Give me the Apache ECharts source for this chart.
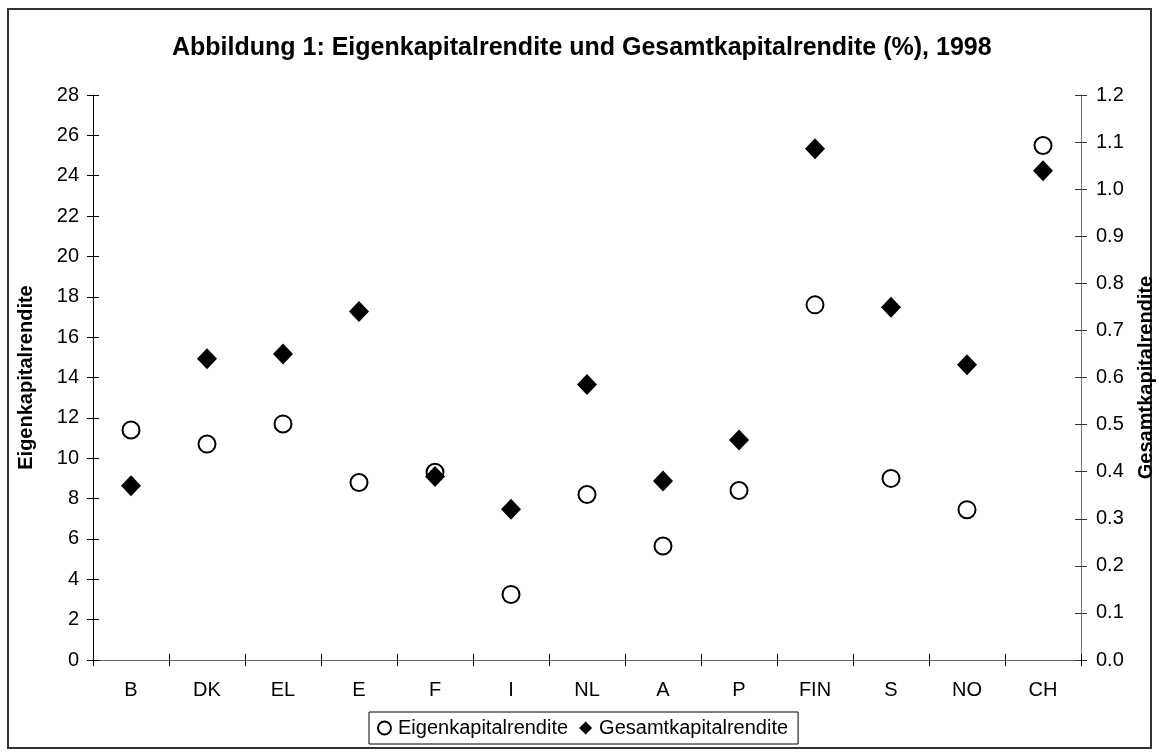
<!DOCTYPE html>
<html>
<head>
<meta charset="utf-8">
<script src="https://cdn.jsdelivr.net/npm/echarts@6/dist/echarts.min.js"></script>
<style>
  html, body { margin: 0; padding: 0; background: #fff; }
  #chart { width: 1159px; height: 756px; }
</style>
</head>
<body>
<div id="chart"></div>
<script>
// Länder (Kategorien)
const countries = ['B', 'DK', 'EL', 'E', 'F', 'I', 'NL', 'A', 'P', 'FIN', 'S', 'NO', 'CH']
// Eigenkapitalrendite (linke Achse, %)
const eigenkapital = [11.4, 10.7, 11.7, 8.8, 9.3, 3.25, 8.2, 5.65, 8.4, 17.6, 9.0, 7.45, 25.5]
// Gesamtkapitalrendite (rechte Achse, %)
const gesamtkapital = [0.37, 0.64, 0.65, 0.74, 0.39, 0.32, 0.585, 0.38, 0.467, 1.086, 0.749, 0.627, 1.039]

const font = "'Liberation Sans', Arial, sans-serif"
const chart = echarts.init(document.getElementById('chart'))

// y-Achsen doppelt, damit die Striche die Achse kreuzen (außen + innen)
function leftAxis (inside) {
  return {
    type: 'value',
    position: 'left',
    min: 0,
    max: 28,
    interval: 2,
    name: inside ? '' : 'Eigenkapitalrendite',
    nameLocation: 'middle',
    nameRotate: 90,
    nameGap: 57,
    nameTextStyle: { fontFamily: font, fontSize: 20, fontWeight: 'bold', color: '#000' },
    axisLine: { show: !inside, lineStyle: { color: '#000', width: 1 } },
    axisTick: { show: true, inside: inside, length: 6, lineStyle: { color: '#000' } },
    axisLabel: { show: !inside, margin: 14, fontFamily: font, fontSize: 20, color: '#000' },
    splitLine: { show: false }
  }
}
function rightAxis (inside) {
  return {
    type: 'value',
    position: 'right',
    min: 0,
    max: 1.2,
    interval: 0.1,
    name: inside ? '' : 'Gesamtkapitalrendite',
    nameLocation: 'middle',
    nameRotate: 90,
    nameGap: 55,
    nameTextStyle: { fontFamily: font, fontSize: 20, fontWeight: 'bold', color: '#000' },
    axisLine: { show: !inside, lineStyle: { color: '#777', width: 1 } },
    axisTick: { show: true, inside: inside, length: 6, lineStyle: { color: '#333' } },
    axisLabel: {
      show: !inside, margin: 15, fontFamily: font, fontSize: 20, color: '#000',
      formatter: v => v.toFixed(1)
    },
    splitLine: { show: false }
  }
}
function catAxis (inside) {
  return {
    type: 'category',
    position: 'bottom',
    data: countries,
    boundaryGap: true,
    axisLine: { show: !inside, onZero: false, lineStyle: { color: '#666', width: 1 } },
    axisTick: { show: true, inside: inside, length: 6, interval: 0, lineStyle: { color: '#000' } },
    axisLabel: { show: !inside, margin: 20, interval: 0, fontFamily: font, fontSize: 20, color: '#000' }
  }
}

const option = {
  animation: false,
  backgroundColor: '#fff',
  textStyle: { fontFamily: font },
  title: {
    text: 'Abbildung 1: Eigenkapitalrendite und Gesamtkapitalrendite (%), 1998',
    left: 172,
    top: 36,
    padding: 0,
    textStyle: { fontFamily: font, fontSize: 25, fontWeight: 'bold', color: '#000' }
  },
  graphic: [{
    type: 'rect',
    shape: { x: 8, y: 9, width: 1143, height: 739 },
    style: { fill: 'none', stroke: '#333', lineWidth: 2 },
    silent: true,
    z: -1
  }],
  legend: {
    left: 369,
    top: 712,
    orient: 'horizontal',
    itemWidth: 13,
    itemHeight: 13,
    itemGap: 11,
    padding: [6, 10, 6, 8],
    borderColor: '#000',
    borderWidth: 1,
    textStyle: { fontFamily: font, fontSize: 20, color: '#000', padding: [0, 0, 0, 2] },
    data: [
      { name: 'Eigenkapitalrendite', icon: 'circle', itemStyle: { color: '#fff', borderColor: '#000', borderWidth: 2 } },
      { name: 'Gesamtkapitalrendite', icon: 'diamond', itemStyle: { color: '#000' } }
    ]
  },
  grid: { left: 93, right: 78, top: 95, bottom: 96, containLabel: false, outerBoundsMode: 'none' },
  xAxis: [catAxis(false), catAxis(true)],
  yAxis: [leftAxis(false), rightAxis(false), leftAxis(true), rightAxis(true)],
  series: [
    {
      name: 'Eigenkapitalrendite',
      type: 'scatter',
      xAxisIndex: 0,
      yAxisIndex: 0,
      symbol: 'circle',
      symbolSize: 17,
      itemStyle: { color: '#fff', borderColor: '#000', borderWidth: 2, opacity: 1 },
      data: eigenkapital
    },
    {
      name: 'Gesamtkapitalrendite',
      type: 'scatter',
      xAxisIndex: 0,
      yAxisIndex: 1,
      symbol: 'diamond',
      symbolSize: [20, 21],
      itemStyle: { color: '#000', opacity: 1 },
      data: gesamtkapital
    }
  ]
}
chart.setOption(option)
</script>
</body>
</html>
